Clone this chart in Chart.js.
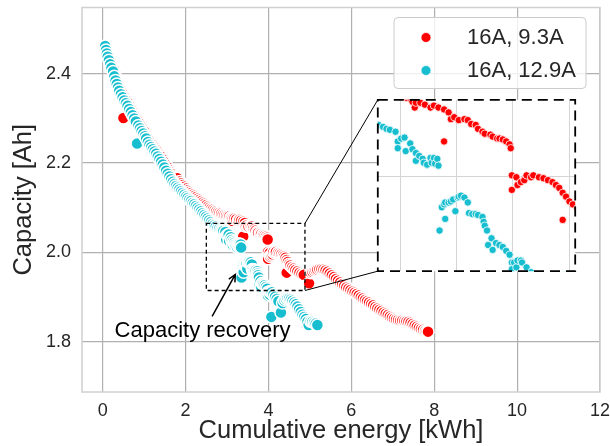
<!DOCTYPE html>
<html>
<head>
<meta charset="utf-8">
<script src="https://cdn.jsdelivr.net/npm/chart.js@4.4.0/dist/chart.umd.min.js"></script>
<style>
  html, body { margin: 0; padding: 0; background: #ffffff; }
  #wrap { position: relative; width: 610px; height: 446px; overflow: hidden; }
  #main { position: absolute; left: 0; top: 0; }
  #inset { position: absolute; left: 373px; top: 95px; }
</style>
</head>
<body>
<div id="wrap">
  <canvas id="main" width="610" height="446"></canvas>
  <canvas id="inset" width="207" height="181"></canvas>
</div>
<script>
// ---- data -------------------------------------------------------------
const seriesNames = ['16A, 9.3A', '16A, 12.9A'];
const xTicks = [0, 2, 4, 6, 8, 10, 12];
const yTicks = [1.8, 2.0, 2.2, 2.4];
const insetXTicks = [3.0, 3.5, 4.0, 4.5];
const insetYTicks = [2.0];

// 16A charge, 9.3A discharge
const redEnergy = [
  0.10, 0.14, 0.18, 0.22, 0.26, 0.30, 0.34, 0.38, 0.42, 0.46, 0.50, 0.53, 0.57, 0.61, 0.65,
  0.69, 0.73, 0.77, 0.81, 0.85, 0.89, 0.93, 0.97, 1.01, 1.05, 1.09, 1.13, 1.17, 1.21, 1.25,
  1.29, 1.33, 1.37, 1.41, 1.45, 1.49, 1.53, 1.57, 1.61, 1.65, 1.69, 1.73, 1.77, 1.80, 1.86,
  1.90, 1.94, 1.98, 2.02, 2.06, 2.10, 2.14, 2.18, 2.22, 2.26, 2.30, 2.34, 2.38, 2.42, 2.46,
  2.50, 2.54, 2.58, 2.62, 2.66, 2.70, 2.74, 2.78, 2.82, 2.86, 2.90, 2.94, 2.98, 3.02, 3.06,
  3.10, 3.11, 3.13, 3.14, 3.18, 3.22, 3.27, 3.30, 3.34, 3.39, 3.39, 3.43, 3.45, 3.48, 3.52,
  3.57, 3.60, 3.63, 3.67, 3.69, 3.73, 3.75, 3.80, 3.82, 3.86, 3.88, 3.91, 3.94, 3.97, 3.98,
  3.99, 3.99, 4.03, 4.04, 4.07, 4.10, 4.12, 4.16, 4.18, 4.23, 4.27, 4.31, 4.35, 4.38, 4.41,
  4.44, 4.44, 4.47, 4.50, 4.53, 4.57, 4.61, 4.65, 4.70, 4.75, 4.80, 4.85, 4.98, 5.02, 5.06,
  5.10, 5.14, 5.18, 5.23, 5.28, 5.33, 5.38, 5.43, 5.48, 5.53, 5.58, 5.63, 5.68, 5.73, 5.78,
  5.83, 5.88, 5.93, 5.98, 6.03, 6.08, 6.13, 6.18, 6.23, 6.28, 6.33, 6.38, 6.43, 6.48, 6.53,
  6.58, 6.63, 6.68, 6.73, 6.78, 6.83, 6.88, 6.93, 6.98, 7.03, 7.08, 7.13, 7.18, 7.23, 7.28,
  7.33, 7.38, 7.43, 7.48, 7.53, 7.58, 7.63, 7.68, 7.73, 7.78, 7.82, 7.85
];
const redCapacity = [
  2.452, 2.441, 2.430, 2.419, 2.409, 2.396, 2.385, 2.375, 2.366, 2.358, 2.301, 2.347, 2.340, 2.334, 2.327,
  2.320, 2.313, 2.306, 2.299, 2.294, 2.288, 2.282, 2.276, 2.270, 2.263, 2.256, 2.250, 2.245, 2.240, 2.235,
  2.230, 2.225, 2.219, 2.214, 2.208, 2.202, 2.196, 2.190, 2.184, 2.179, 2.175, 2.171, 2.168, 2.166, 2.159,
  2.155, 2.151, 2.147, 2.143, 2.139, 2.136, 2.133, 2.130, 2.127, 2.124, 2.121, 2.118, 2.115, 2.112, 2.109,
  2.106, 2.103, 2.100, 2.098, 2.096, 2.094, 2.092, 2.090, 2.089, 2.087, 2.085, 2.084, 2.083, 2.082, 2.081,
  2.079, 2.077, 2.071, 2.076, 2.076, 2.074, 2.071, 2.073, 2.071, 2.069, 2.036, 2.066, 2.059, 2.061, 2.058,
  2.059, 2.058, 2.054, 2.053, 2.049, 2.046, 2.044, 2.043, 2.041, 2.039, 2.039, 2.038, 2.036, 2.033, 2.029,
  1.986, 2.001, 1.999, 1.991, 1.994, 1.996, 2.001, 1.999, 2.001, 1.999, 1.998, 1.996, 1.994, 1.991, 1.988,
  1.955, 1.983, 1.979, 1.974, 1.971, 1.967, 1.964, 1.961, 1.958, 1.955, 1.952, 1.950, 1.931, 1.955, 1.957,
  1.959, 1.961, 1.962, 1.963, 1.963, 1.962, 1.960, 1.957, 1.953, 1.949, 1.945, 1.941, 1.937, 1.933, 1.929,
  1.926, 1.922, 1.919, 1.916, 1.913, 1.910, 1.907, 1.904, 1.900, 1.897, 1.894, 1.891, 1.888, 1.885, 1.882,
  1.878, 1.875, 1.872, 1.869, 1.866, 1.863, 1.860, 1.857, 1.854, 1.852, 1.850, 1.849, 1.848, 1.848, 1.847,
  1.846, 1.845, 1.843, 1.840, 1.837, 1.834, 1.831, 1.829, 1.827, 1.825, 1.824, 1.823
];

// 16A charge, 12.9A discharge
const cyanEnergy = [
  0.06, 0.08, 0.10, 0.12, 0.15, 0.18, 0.21, 0.25, 0.28, 0.31, 0.34, 0.37, 0.40, 0.44, 0.48,
  0.52, 0.56, 0.60, 0.64, 0.68, 0.72, 0.76, 0.80, 0.83, 0.86, 0.90, 0.94, 0.98, 1.02, 1.05,
  1.09, 1.13, 1.17, 1.21, 1.25, 1.29, 1.33, 1.37, 1.41, 1.45, 1.49, 1.53, 1.57, 1.61, 1.65,
  1.69, 1.73, 1.77, 1.81, 1.85, 1.89, 1.93, 1.97, 2.01, 2.05, 2.09, 2.13, 2.17, 2.21, 2.25,
  2.29, 2.33, 2.37, 2.41, 2.45, 2.49, 2.53, 2.57, 2.61, 2.65, 2.69, 2.73, 2.77, 2.81, 2.85,
  2.88, 2.91, 2.96, 2.98, 2.98, 3.01, 3.04, 3.05, 3.09, 3.11, 3.14, 3.14, 3.17, 3.20, 3.21,
  3.24, 3.27, 3.28, 3.30, 3.31, 3.33, 3.34, 3.35, 3.37, 3.39, 3.40, 3.40, 3.43, 3.45, 3.47,
  3.49, 3.51, 3.52, 3.54, 3.57, 3.60, 3.61, 3.64, 3.67, 3.69, 3.73, 3.74, 3.75, 3.77, 3.78,
  3.81, 3.82, 3.85, 3.88, 3.91, 3.94, 3.97, 3.99, 3.99, 4.01, 4.03, 4.04, 4.07, 4.08, 4.12,
  4.16, 4.20, 4.24, 4.07, 4.30, 4.34, 4.38, 4.42, 4.46, 4.50, 4.54, 4.58, 4.62, 4.66, 4.70,
  4.74, 4.78, 4.82, 4.86, 4.90, 4.94, 4.97, 5.02, 5.06, 5.10, 5.14, 5.18
];
const cyanCapacity = [
  2.462, 2.453, 2.445, 2.438, 2.430, 2.421, 2.413, 2.405, 2.394, 2.385, 2.377, 2.369, 2.362, 2.354, 2.347,
  2.340, 2.334, 2.328, 2.321, 2.314, 2.307, 2.300, 2.293, 2.244, 2.284, 2.278, 2.272, 2.266, 2.260, 2.255,
  2.247, 2.241, 2.236, 2.231, 2.226, 2.221, 2.215, 2.209, 2.203, 2.197, 2.190, 2.183, 2.176, 2.170, 2.164,
  2.158, 2.153, 2.149, 2.145, 2.141, 2.137, 2.133, 2.129, 2.125, 2.122, 2.118, 2.115, 2.111, 2.108, 2.104,
  2.100, 2.096, 2.092, 2.088, 2.084, 2.080, 2.076, 2.072, 2.068, 2.064, 2.061, 2.058, 2.055, 2.053, 2.051,
  2.049, 2.048, 2.046, 2.036, 2.029, 2.039, 2.040, 2.026, 2.034, 2.028, 2.024, 2.016, 2.021, 2.018, 2.014,
  2.012, 2.019, 2.014, 2.019, 2.013, 2.018, 2.011, 1.944, 1.968, 1.971, 1.956, 1.973, 1.973, 1.974, 1.976,
  1.964, 1.978, 1.979, 1.980, 1.978, 1.973, 1.962, 1.961, 1.961, 1.960, 1.958, 1.953, 1.949, 1.944, 1.929,
  1.936, 1.924, 1.931, 1.929, 1.927, 1.923, 1.919, 1.911, 1.904, 1.911, 1.906, 1.913, 1.913, 1.911, 1.906,
  1.901, 1.896, 1.891, 1.856, 1.866, 1.887, 1.893, 1.896, 1.898, 1.897, 1.895, 1.892, 1.888, 1.884, 1.879,
  1.873, 1.867, 1.861, 1.856, 1.851, 1.845, 1.838, 1.846, 1.845, 1.843, 1.841, 1.838
];

// region of the main plot that is magnified in the inset
const zoomEnergy = [2.5, 4.88];
const zoomCapacity = [1.915, 2.065];
// limits of the inset axes
const insetEnergy = [2.803, 4.551];
const insetCapacity = [1.902, 2.079];

// ---- styling ----------------------------------------------------------
const FONT = "'Liberation Sans', Arial, Helvetica, sans-serif";
const TEXT = '#262626';
const RED = '#ff0000';
const CYAN = '#17becf';

const toPoints = (xs, ys) => xs.map((x, i) => ({ x: x, y: ys[i] }));
const fixTicks = values => scale => { scale.ticks = values.map(v => ({ value: v })); };
// keep the plot area free of the label overhang padding Chart.js adds
const noOverhang = s => { s.paddingTop = 0; s.paddingBottom = 0; s.paddingLeft = 0; s.paddingRight = 0; };

// ---- inset ------------------------------------------------------------
const insetFrame = {
  id: 'insetFrame',
  beforeDraw(chart) {
    const { ctx, chartArea: a } = chart;
    ctx.save();
    ctx.fillStyle = '#ffffff';
    ctx.fillRect(a.left, a.top, a.right - a.left, a.bottom - a.top);
    ctx.restore();
  },
  afterDraw(chart) {
    const { ctx, chartArea: a } = chart;
    ctx.save();
    ctx.strokeStyle = '#000000';
    ctx.lineWidth = 1.8;
    ctx.setLineDash([10, 6]);
    ctx.strokeRect(a.left, a.top, a.right - a.left, a.bottom - a.top);
    ctx.restore();
  }
};

const insetPoint = { pointRadius: 3.7, pointBorderWidth: 0.8, pointBorderColor: '#ffffff' };
const insetChart = new Chart(document.getElementById('inset'), {
  type: 'scatter',
  data: {
    datasets: [
      Object.assign({ label: seriesNames[1], data: toPoints(cyanEnergy, cyanCapacity),
        pointBackgroundColor: CYAN, order: 0 }, insetPoint),
      Object.assign({ label: seriesNames[0], data: toPoints(redEnergy, redCapacity),
        pointBackgroundColor: RED, order: 1 }, insetPoint)
    ]
  },
  options: {
    responsive: false, animation: false, devicePixelRatio: 1,
    layout: { padding: 2 },
    plugins: { legend: { display: false }, tooltip: { enabled: false } },
    scales: {
      x: {
        type: 'linear', min: insetEnergy[0], max: insetEnergy[1],
        afterBuildTicks: fixTicks(insetXTicks),
        afterFit: s => { s.height = 0; noOverhang(s); },
        ticks: { display: false },
        grid: { color: '#d4d4d4', lineWidth: 1, drawTicks: false },
        border: { display: false }
      },
      y: {
        type: 'linear', min: insetCapacity[0], max: insetCapacity[1],
        afterBuildTicks: fixTicks(insetYTicks),
        afterFit: s => { s.width = 0; noOverhang(s); },
        ticks: { display: false },
        grid: { color: '#d4d4d4', lineWidth: 1, drawTicks: false },
        border: { display: false }
      }
    }
  },
  plugins: [insetFrame]
});

// ---- main plot --------------------------------------------------------
const insetCanvas = document.getElementById('inset');

const mainDecor = {
  id: 'mainDecor',
  beforeDraw(chart) {
    const { ctx } = chart;
    ctx.save();
    ctx.fillStyle = '#ffffff';
    ctx.fillRect(0, 0, chart.width, chart.height);
    ctx.restore();
  },
  afterDatasetsDraw(chart) {
    const { ctx, chartArea: a, scales: { x, y } } = chart;
    ctx.save();
    // axes frame
    ctx.strokeStyle = '#d0d0d0';
    ctx.lineWidth = 1.5;
    ctx.strokeRect(a.left, a.top, a.right - a.left, a.bottom - a.top);

    // magnified region and its connectors to the inset
    const x0 = x.getPixelForValue(zoomEnergy[0]);
    const x1 = x.getPixelForValue(zoomEnergy[1]);
    const y0 = y.getPixelForValue(zoomCapacity[0]);
    const y1 = y.getPixelForValue(zoomCapacity[1]);
    ctx.strokeStyle = '#000000';
    ctx.lineWidth = 1.3;
    ctx.setLineDash([4, 3]);
    ctx.strokeRect(x0, y1, x1 - x0, y0 - y1);
    ctx.setLineDash([]);
    ctx.lineWidth = 1;
    const ia = insetChart.chartArea;
    const il = insetCanvas.offsetLeft + ia.left;
    const it = insetCanvas.offsetTop + ia.top;
    const ib = insetCanvas.offsetTop + ia.bottom;
    ctx.beginPath();
    ctx.moveTo(x1, y1); ctx.lineTo(il, it);
    ctx.moveTo(x1, y0); ctx.lineTo(il, ib);
    ctx.stroke();

    // annotation
    const tx = x.getPixelForValue(2.41), ty = y.getPixelForValue(1.810);
    ctx.fillStyle = '#000000';
    ctx.font = '22px ' + FONT;
    ctx.textAlign = 'center';
    ctx.textBaseline = 'alphabetic';
    ctx.fillText('Capacity recovery', tx, ty);
    const ax0 = x.getPixelForValue(2.64), ay0 = y.getPixelForValue(1.857);
    const ax1 = x.getPixelForValue(3.20), ay1 = y.getPixelForValue(1.951);
    const ang = Math.atan2(ay1 - ay0, ax1 - ax0);
    ctx.lineWidth = 1.5;
    ctx.beginPath();
    ctx.moveTo(ax0, ay0); ctx.lineTo(ax1, ay1);
    ctx.moveTo(ax1 - 8 * Math.cos(ang - 0.45), ay1 - 8 * Math.sin(ang - 0.45));
    ctx.lineTo(ax1, ay1);
    ctx.lineTo(ax1 - 8 * Math.cos(ang + 0.45), ay1 - 8 * Math.sin(ang + 0.45));
    ctx.stroke();
    ctx.restore();
  },
  afterDraw(chart) {
    // legend box in the upper right corner
    const { ctx, chartArea: a } = chart;
    const w = 192, h = 71;
    const bx = a.right - 14 - w, by = a.top + 10;
    ctx.save();
    ctx.beginPath();
    ctx.roundRect(bx, by, w, h, 4);
    ctx.fillStyle = 'rgba(255,255,255,0.8)';
    ctx.fill();
    ctx.strokeStyle = '#cccccc';
    ctx.lineWidth = 1;
    ctx.stroke();
    const entries = [
      { label: seriesNames[0], color: RED },
      { label: seriesNames[1], color: CYAN }
    ];
    ctx.font = '22px ' + FONT;
    ctx.textAlign = 'left';
    ctx.textBaseline = 'middle';
    entries.forEach((e, i) => {
      const cy = by + 20 + i * 33;
      ctx.beginPath();
      ctx.arc(bx + 32, cy, 5, 0, Math.PI * 2);
      ctx.fillStyle = e.color;
      ctx.fill();
      ctx.strokeStyle = '#ffffff';
      ctx.lineWidth = 0.8;
      ctx.stroke();
      ctx.fillStyle = TEXT;
      ctx.fillText(e.label, bx + 73, cy);
    });
    ctx.restore();
  }
};

const mainPoint = { pointRadius: 6.0, pointBorderWidth: 1.5, pointBorderColor: '#ffffff' };
new Chart(document.getElementById('main'), {
  type: 'scatter',
  data: {
    datasets: [
      Object.assign({ label: seriesNames[1], data: toPoints(cyanEnergy, cyanCapacity),
        pointBackgroundColor: CYAN, order: 0 }, mainPoint),
      Object.assign({ label: seriesNames[0], data: toPoints(redEnergy, redCapacity),
        pointBackgroundColor: RED, order: 1 }, mainPoint)
    ]
  },
  options: {
    responsive: false, animation: false, devicePixelRatio: 1,
    layout: { padding: { top: 7, right: 10, left: 0, bottom: 0 } },
    plugins: { legend: { display: false }, tooltip: { enabled: false } },
    scales: {
      x: {
        type: 'linear', min: -0.5, max: 12,
        afterBuildTicks: fixTicks(xTicks),
        afterFit: s => { s.height = 54; noOverhang(s); },
        grid: { color: '#b0b0b0', lineWidth: 1.2, drawTicks: false },
        border: { display: false },
        ticks: { color: TEXT, font: { family: FONT, size: 18 }, padding: 8,
                 callback: v => String(v) },
        title: { display: true, text: 'Cumulative energy [kWh]', color: TEXT,
                 font: { family: FONT, size: 25.5 }, padding: 0 }
      },
      y: {
        type: 'linear', min: 1.688, max: 2.548,
        afterBuildTicks: fixTicks(yTicks),
        afterFit: s => { s.width = 82; noOverhang(s); },
        grid: { color: '#b0b0b0', lineWidth: 1.2, drawTicks: false },
        border: { display: false },
        ticks: { color: TEXT, font: { family: FONT, size: 18 }, padding: 11,
                 callback: v => v.toFixed(1) },
        title: { display: true, text: 'Capacity [Ah]', color: TEXT,
                 font: { family: FONT, size: 25.5 }, padding: { top: 9, bottom: 0 } }
      }
    }
  },
  plugins: [mainDecor]
});
</script>
</body>
</html>
